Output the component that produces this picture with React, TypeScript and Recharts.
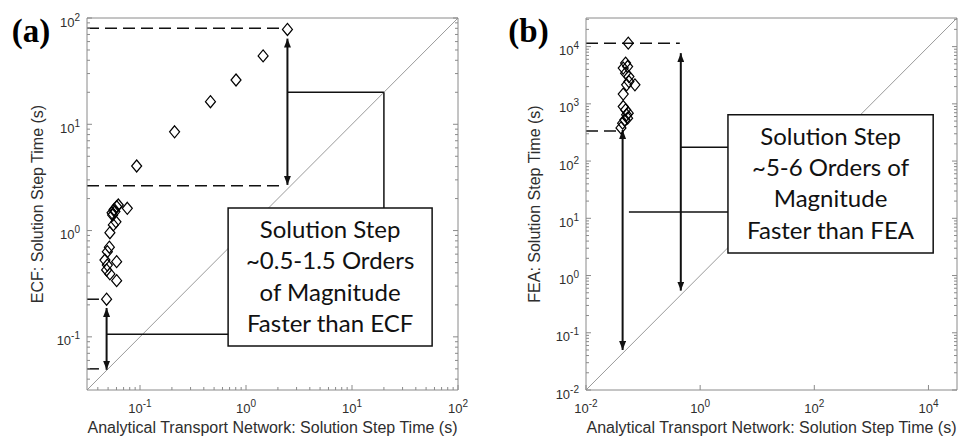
import React from "react";
import {
  ScatterChart,
  Scatter,
  XAxis,
  YAxis,
  ReferenceLine,
  ReferenceArea,
} from "recharts";

// (a) analytical network time vs ECF time, seconds
const ECF_NETWORK_TIME = [
  0.0484, 0.0602, 0.052, 0.0484, 0.0492, 0.0602, 0.0467, 0.0492, 0.0514, 0.052,
  0.056, 0.0593, 0.0552, 0.058, 0.0602, 0.0624, 0.0759, 0.057, 0.0545, 0.093,
  0.212, 0.462, 0.805, 1.45, 2.46,
];
const ECF_TIME = [
  0.226, 0.338, 0.391, 0.426, 0.474, 0.51, 0.528, 0.633, 0.697, 0.955, 1.13,
  1.21, 1.4, 1.51, 1.68, 1.74, 1.62, 1.58, 1.47, 4.05, 8.5, 16.3, 26.1, 44, 78,
];

// (b) analytical network time vs FEA time, seconds
const FEA_NETWORK_TIME = [
  0.055, 0.0494, 0.0449, 0.0536, 0.0494, 0.0565, 0.0565, 0.072, 0.0515, 0.0449,
  0.0449, 0.0494, 0.055, 0.0515, 0.0536, 0.048, 0.0438, 0.041,
];
const FEA_TIME = [
  11500, 5150, 4210, 4490, 3440, 3000, 2450, 2150, 2150, 1480, 897, 785, 688,
  643, 562, 525, 460, 380,
];

// labelled decades
const ECF_DECADES = [0.1, 1, 10, 100];
const FEA_X_DECADES = [0.01, 1, 100, 10000];
const FEA_Y_DECADES = [0.01, 0.1, 1, 10, 100, 1000, 10000];

// dashed guides: [level, x where the dash stops]
const ECF_GUIDES = [
  [80, 2.13],
  [2.64, 2.27],
  [0.226, 0.041],
  [0.05, 0.041],
];
const FEA_GUIDES = [
  [11500, 0.44],
  [337, 0.039],
];

// double arrows: [x, low, high]
const ECF_SPANS = [
  [2.46, 2.69, 64],
  [0.0484, 0.049, 0.187],
];
const FEA_SPANS = [
  [0.0438, 0.05, 350],
  [0.458, 0.545, 7690],
];

// leader lines: [x1, y1, x2, y2]
const ECF_LEADERS = [
  [2.46, 20, 20, 20],
  [20, 20, 20, 1.632],
  [0.0484, 0.106, 0.678, 0.106],
];
const FEA_LEADERS = [
  [0.0565, 12.9, 3.07, 12.9],
  [0.458, 175, 3.07, 175],
];

// note boxes: [x1, x2, y1, y2]
const ECF_BOX = [0.678, 57, 0.0821, 1.632];
const FEA_BOX = [3.07, 12100, 2.48, 643];

const ECF_NOTE = ["Solution Step", "~0.5-1.5 Orders", "of Magnitude", "Faster than ECF"];
const FEA_NOTE = ["Solution Step", "~5-6 Orders of", "Magnitude", "Faster than FEA"];

const AXIS = "#8a8a8a";
const INK = "#111";
const LABEL = "#2e2e2e";
const SANS = "'Liberation Sans', Arial, sans-serif";

const minorTicks = (lo: number, hi: number) => {
  const out: number[] = [];
  for (let k = Math.floor(Math.log10(lo)); k <= Math.ceil(Math.log10(hi)); k++) {
    for (let m = 2; m <= 9; m++) {
      const v = m * Math.pow(10, k);
      if (v > lo && v < hi) out.push(v);
    }
  }
  return out;
};

const Pow = ({ x, y, exp, anchor }: any) => (
  <text x={x} y={y} textAnchor={anchor} fill={LABEL} fontFamily={SANS} fontSize={13}>
    10
    <tspan dy={-6} fontSize={10}>
      {exp}
    </tspan>
  </text>
);

// inward MATLAB-style ticks, labels only on the outer sides
const makeTick = (side: string, majors: number[]) => (props: any) => {
  const { x, y, payload } = props;
  const v = payload.value;
  const major = majors.some((m) => Math.abs(v / m - 1) < 1e-6);
  const len = major ? 5 : 3;
  const exp = Math.round(Math.log10(v));
  let seg = [x, y, x, y];
  let label = null;
  if (side === "bottom") {
    seg = [x, y, x, y - len];
    if (major) label = <Pow x={x} y={y + 23} exp={exp} anchor="middle" />;
  } else if (side === "top") {
    seg = [x, y, x, y + len];
  } else if (side === "left") {
    seg = [x, y, x + len, y];
    if (major) label = <Pow x={x - 7} y={y + 8.5} exp={exp} anchor="end" />;
  } else {
    seg = [x, y, x - len, y];
  }
  return (
    <g>
      <line x1={seg[0]} y1={seg[1]} x2={seg[2]} y2={seg[3]} stroke={AXIS} strokeWidth={1} />
      {label}
    </g>
  );
};

const arrowShape = (p: any) => (
  <line
    x1={p.x1}
    y1={p.y1}
    x2={p.x2}
    y2={p.y2}
    stroke={INK}
    strokeWidth={2}
    markerStart="url(#spanHead)"
    markerEnd="url(#spanHead)"
  />
);

const diamond = (p: any) => {
  const { cx, cy } = p;
  return (
    <path
      d={`M${cx},${cy - 6}L${cx + 5},${cy}L${cx},${cy + 6}L${cx - 5},${cy}Z`}
      fill="none"
      stroke="#000"
      strokeWidth={1.2}
    />
  );
};

function Panel(props: any) {
  const {
    left, width, axisW, rightW, lo, hi, xs, ys, xMajors, yMajors, xMinor, yMinor,
    guides, spans, leaders, box, note, xTitle, yTitle, titleX, tag, tagX,
  } = props;
  const data = xs.map((x: number, i: number) => ({ x, y: ys[i] }));
  const xTicks = xMinor ? [...xMajors, ...minorTicks(lo, hi)] : xMajors;
  const yTicks = yMinor ? [...yMajors, ...minorTicks(lo, hi)] : yMajors;
  const plotMidX = axisW + (width - axisW - rightW) / 2;
  const axisCommon = {
    type: "number" as const,
    scale: "log" as const,
    domain: [lo, hi],
    allowDataOverflow: true,
    interval: 0,
    tickSize: 0,
    tickMargin: 0,
    tickLine: false,
    axisLine: { stroke: AXIS, strokeWidth: 1 },
  };
  return (
    <div style={{ position: "absolute", left, top: 0 }}>
      <ScatterChart width={width} height={443} margin={{ top: 0, right: 0, bottom: 0, left: 0 }}>
        <XAxis
          {...axisCommon}
          dataKey="x"
          height={53}
          ticks={xTicks}
          tick={makeTick("bottom", xMajors)}
          label={() => (
            <text x={plotMidX} y={433} textAnchor="middle" fill={LABEL} fontFamily={SANS} fontSize={16}>
              {xTitle}
            </text>
          )}
        />
        <XAxis
          {...axisCommon}
          xAxisId="top"
          orientation="top"
          height={18}
          ticks={xTicks}
          tick={makeTick("top", xMajors)}
        />
        <YAxis
          {...axisCommon}
          dataKey="y"
          width={axisW}
          ticks={yTicks}
          tick={makeTick("left", yMajors)}
          label={() => (
            <g>
              <text
                x={titleX}
                y={204}
                transform={`rotate(-90 ${titleX} 204)`}
                textAnchor="middle"
                fill={LABEL}
                fontFamily={SANS}
                fontSize={16}
              >
                {yTitle}
              </text>
              <text
                x={tagX}
                y={41.7}
                fill="#000"
                fontFamily="'Liberation Serif', 'Times New Roman', serif"
                fontWeight="bold"
                fontSize={33}
              >
                {tag}
              </text>
            </g>
          )}
        />
        <YAxis
          {...axisCommon}
          yAxisId="right"
          orientation="right"
          width={rightW}
          ticks={yTicks}
          tick={makeTick("right", yMajors)}
        />

        {/* parity line */}
        <ReferenceLine
          segment={[{ x: lo, y: lo }, { x: hi, y: hi }]}
          stroke="#9a9a9a"
          strokeWidth={1}
          ifOverflow="visible"
          zIndex={50}
        />

        <ReferenceArea
          x1={box[0]}
          x2={box[1]}
          y1={box[2]}
          y2={box[3]}
          fill="#fff"
          fillOpacity={1}
          stroke={INK}
          strokeWidth={1.5}
          ifOverflow="visible"
          zIndex={100}
          label={(lp: any) => {
            const vb = lp.viewBox;
            const cx = vb.x + vb.width / 2;
            return (
              <g>
                {note.map((line: string, i: number) => (
                  <text
                    key={line}
                    x={cx}
                    y={vb.y + 30 + i * 31.3}
                    textAnchor="middle"
                    fill="#111"
                    fontFamily="Lato, 'Open Sans', sans-serif"
                    fontSize={24}
                  >
                    {line}
                  </text>
                ))}
              </g>
            );
          }}
        />

        {guides.map((g: number[], i: number) => (
          <ReferenceLine
            key={`g${i}`}
            segment={[{ x: lo, y: g[0] }, { x: g[1], y: g[0] }]}
            stroke={INK}
            strokeWidth={1.5}
            strokeDasharray="12 6"
            ifOverflow="visible"
            zIndex={150}
          />
        ))}
        {leaders.map((s: number[], i: number) => (
          <ReferenceLine
            key={`l${i}`}
            segment={[{ x: s[0], y: s[1] }, { x: s[2], y: s[3] }]}
            stroke={INK}
            strokeWidth={1.5}
            ifOverflow="visible"
            zIndex={150}
          />
        ))}
        {spans.map((s: number[], i: number) => (
          <ReferenceLine
            key={`s${i}`}
            segment={[{ x: s[0], y: s[1] }, { x: s[0], y: s[2] }]}
            shape={arrowShape}
            ifOverflow="visible"
            zIndex={150}
          />
        ))}

        <Scatter data={data} shape={diamond} isAnimationActive={false} />
      </ScatterChart>
    </div>
  );
}

export default function App() {
  return (
    <div style={{ position: "absolute", left: 0, top: 0, width: 977, height: 443, background: "#fff" }}>
      <svg width={0} height={0} style={{ position: "absolute" }}>
        <defs>
          <marker
            id="spanHead"
            viewBox="0 0 10 10"
            refX={10}
            refY={5}
            markerUnits="userSpaceOnUse"
            markerWidth={9}
            markerHeight={7}
            orient="auto-start-reverse"
            preserveAspectRatio="none"
          >
            <path d="M0,0L10,5L0,10Z" fill={INK} />
          </marker>
        </defs>
      </svg>
      <Panel
        left={0}
        width={490}
        axisW={87}
        rightW={32}
        lo={Math.pow(10, -1.5)}
        hi={100}
        xs={ECF_NETWORK_TIME}
        ys={ECF_TIME}
        xMajors={ECF_DECADES}
        yMajors={ECF_DECADES}
        xMinor
        yMinor
        guides={ECF_GUIDES}
        spans={ECF_SPANS}
        leaders={ECF_LEADERS}
        box={ECF_BOX}
        note={ECF_NOTE}
        xTitle="Analytical Transport Network: Solution Step Time (s)"
        yTitle="ECF: Solution Step Time (s)"
        titleX={43.3}
        tag="(a)"
        tagX={11.7}
      />
      <Panel
        left={490}
        width={487}
        axisW={96}
        rightW={20}
        lo={0.01}
        hi={Math.pow(10, 4.5)}
        xs={FEA_NETWORK_TIME}
        ys={FEA_TIME}
        xMajors={FEA_X_DECADES}
        yMajors={FEA_Y_DECADES}
        xMinor={false}
        yMinor
        guides={FEA_GUIDES}
        spans={FEA_SPANS}
        leaders={FEA_LEADERS}
        box={FEA_BOX}
        note={FEA_NOTE}
        xTitle="Analytical Transport Network: Solution Step Time (s)"
        yTitle="FEA: Solution Step Time (s)"
        titleX={50}
        tag="(b)"
        tagX={18.3}
      />
    </div>
  );
}
